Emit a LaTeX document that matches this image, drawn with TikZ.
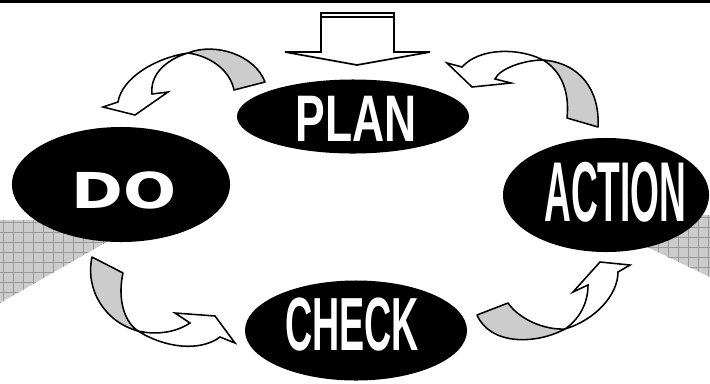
\documentclass[tikz,border=0pt]{standalone}
\usepackage{fontspec}
\setmainfont{Liberation Sans}
\newfontfamily\dofont{DejaVu Sans}
\usepackage{graphicx}
\usetikzlibrary{shapes.geometric}
\definecolor{BackGray}{HTML}{CCCCCC}
\definecolor{GridGray}{HTML}{999999}

\begin{document}
\begin{tikzpicture}[x=0.025cm, y=-0.025cm,
  stage/.style={ellipse, fill=black, inner sep=0pt},
  stagetext/.style={text=white, inner sep=0pt, font=\fontsize{40}{40}\selectfont\bfseries},
  backband/.style={draw=black, line width=1.1pt, fill=BackGray, line join=round},
  frontband/.style={draw=black, line width=1.1pt, fill=white, line join=miter},
  gridline/.style={GridGray, line width=0.4pt}
]
  \useasboundingbox (0,0) rectangle (710,383);
  \draw[line width=2.2pt] (0,1.5) -- (710,1.5);

  % hatched corners
  \fill[BackGray] (0,220) -- (145,220) -- (0,303) -- cycle;
  \begin{scope}
    \clip (0,220) -- (145,220) -- (0,303) -- cycle;
    \foreach \gx in {3,13,...,153} \draw[gridline] (\gx,215) -- (\gx,310);
    \foreach \gy in {222,232,...,312} \draw[gridline] (0,\gy) -- (150,\gy);
  \end{scope}
  \fill[BackGray] (580,215) -- (710,215) -- (710,277) -- cycle;
  \begin{scope}
    \clip (580,215) -- (710,215) -- (710,277) -- cycle;
    \foreach \gx in {578,588,...,718} \draw[gridline] (\gx,210) -- (\gx,280);
    \foreach \gy in {217,227,...,287} \draw[gridline] (575,\gy) -- (715,\gy);
  \end{scope}

  \node[stage, minimum width=5.8cm,  minimum height=1.85cm]  (plan)   at (353,116.5) {};
  \node[stage, minimum width=5.45cm, minimum height=2.875cm] (do)     at (121,184.5) {};
  \node[stage, minimum width=5.15cm, minimum height=2.85cm]  (action) at (606,195)   {};
  \node[stage, minimum width=5.55cm, minimum height=2.5cm]   (check)  at (356,330.5) {};

  \node[stagetext] (plantext)   at (356,118.5) {\scalebox{0.79}[1.17]{PLAN}};
  \node[stagetext] (dotext)     at (124,190)   {\dofont\bfseries\scalebox{1.11}[0.88]{DO}};
  \node[stagetext] (actiontext) at (615.5,192.5) {\scalebox{0.66}[1.51]{ACTION}};
  \node[stagetext] (checktext)  at (352,325)   {\scalebox{0.67}[1.34]{CHECK}};

  % input arrow
  \draw[line width=1.2pt, fill=white] (321,13) -- (321,52) -- (285,52) -- (357,65)
    -- (430,52) -- (394,52) -- (394,13) -- cycle;
  \draw[line width=1.2pt] (321,17) -- (394,17);

  % plan -> do
  \draw[backband] (188,53) .. controls (215,42) and (255,55) .. (265,82) -- (234,90)
    .. controls (230,70) and (210,56) .. (188,53) -- cycle;
  \draw[frontband] (188,53) .. controls (155,58) and (122,78) .. (118,102) -- (103,107)
    -- (135,115) -- (168,92) -- (152,94) .. controls (150,75) and (165,60) .. (188,53) -- cycle;

  % action -> plan
  \draw[backband] (543,60) .. controls (580,63) and (600,90) .. (598,127) -- (567,118)
    .. controls (570,90) and (560,70) .. (543,60) -- cycle;
  \draw[frontband] (543,60) .. controls (520,48) and (480,47) .. (462,67) -- (447,63)
    -- (472,87) -- (511,83) -- (495,79) .. controls (500,68) and (525,60) .. (543,60) -- cycle;

  % do -> check
  \draw[backband] (138,331) .. controls (105,322) and (85,290) .. (92,257) -- (123,273)
    .. controls (118,295) and (122,320) .. (138,331) -- cycle;
  \draw[frontband] (138,331) .. controls (165,348) and (200,352) .. (220,337) -- (235,343)
    -- (215,316) -- (175,313) -- (190,323) .. controls (175,333) and (155,335) .. (138,331) -- cycle;

  % check -> action
  \draw[backband] (565,329) .. controls (535,345) and (490,345) .. (477,315) -- (508,303)
    .. controls (520,320) and (545,330) .. (565,329) -- cycle;
  \draw[frontband] (565,329) .. controls (595,320) and (618,295) .. (618,272) -- (630,265)
    -- (600,262) -- (573,292) -- (588,285) .. controls (588,305) and (578,320) .. (565,329) -- cycle;
\end{tikzpicture}
\end{document}
